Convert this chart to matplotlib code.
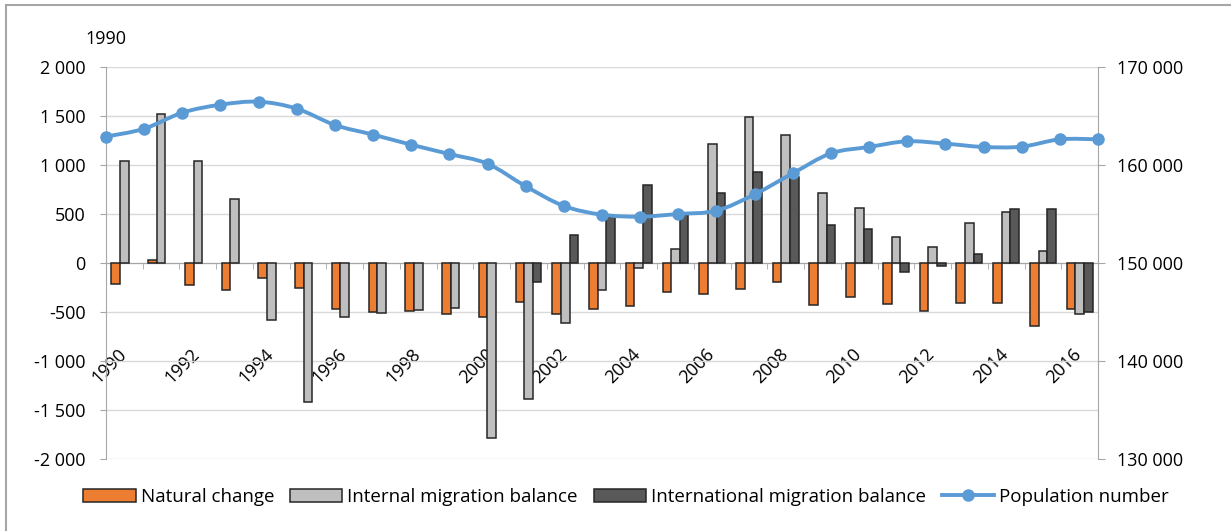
import numpy as np
import matplotlib
matplotlib.use("Agg")
import matplotlib.pyplot as plt
import matplotlib.ticker as ticker
import matplotlib.transforms as mtransforms
from matplotlib.path import Path
from matplotlib.patches import PathPatch, Rectangle
from matplotlib.lines import Line2D

plt.rcParams['font.family'] = ['Open Sans', 'DejaVu Sans']

# --- Data ---
years = list(range(1990, 2017))
natural_change = [-211, 31, -224, -275, -156, -258, -466, -503, -486, -520, -551,
                  -398, -517, -469, -439, -296, -313, -265, -197, -425, -343,
                  -422, -490, -412, -408, -646, -473]
internal_migration = [1041, 1517, 1041, 653, -582, -1422, -554, -510, -476, -463,
                      -1789, -1384, -609, -279, -54, 143, 1218, 1490, 1306, 718,
                      565, 269, 160, 405, 524, 126, -524]
international_migration = [np.nan] * 11 + [-197, 282, 469, 792, 490, 714, 931, 880,
                                           384, 350, -92, -27, 92, 551, 548, -503]
population = [162900, 163700, 165340, 166150, 166460, 165750, 164080, 163100,
              162070, 161120, 160130, 157830, 155820, 154930, 154730, 155000,
              155340, 157010, 159150, 161190, 161840, 162420, 162180, 161840,
              161870, 162620, 162620]

series_labels = ["Natural change", "Internal migration balance",
                 "International migration balance", "Population number"]

# --- Styles ---
c_nat, c_int, c_intl, c_pop = "#ED7D31", "#BFBFBF", "#595959", "#5B9BD5"
edge = "#262626"
grid_c, spine_c = "#D9D9D9", "#A6A6A6"
fs = 13


def space_thousands(v, pos):
    return f"{int(round(v)):,}".replace(",", " ")


def smooth_path(xs, ys):
    # Catmull-Rom spline converted to cubic Bezier segments
    pts = np.column_stack([xs, ys]).astype(float)
    n = len(pts)
    verts, codes = [pts[0]], [Path.MOVETO]
    for i in range(n - 1):
        p0, p1 = pts[max(i - 1, 0)], pts[i]
        p2, p3 = pts[i + 1], pts[min(i + 2, n - 1)]
        verts += [p1 + (p2 - p0) / 6, p2 - (p3 - p1) / 6, p2]
        codes += [Path.CURVE4] * 3
    return Path(verts, codes)


fig = plt.figure(figsize=(12.31, 5.31), dpi=100)
rect = [106 / 1231, 1 - 459 / 531, (1098 - 106) / 1231, (459 - 67) / 531]
ax = fig.add_axes(rect)

x = np.arange(len(years))
w = 0.235
ax.bar(x - w, natural_change, w, color=c_nat, edgecolor=edge, linewidth=1.1, zorder=3)
ax.bar(x, internal_migration, w, color=c_int, edgecolor=edge, linewidth=1.1, zorder=3)
ax.bar(x + w, international_migration, w, color=c_intl, edgecolor=edge, linewidth=1.1, zorder=3)

ax.set_xlim(-0.5, len(years) - 0.5)
ax.set_ylim(-2000, 2000)
ax.yaxis.set_major_locator(ticker.MultipleLocator(500))
ax.yaxis.set_major_formatter(ticker.FuncFormatter(space_thousands))
ax.grid(axis='y', color=grid_c, linewidth=1.0, zorder=0)
ax.set_axisbelow(True)

for s in ['top', 'right']:
    ax.spines[s].set_visible(False)
ax.spines['left'].set_color(spine_c)
ax.spines['bottom'].set_color(spine_c)
ax.spines['bottom'].set_position(('data', 0))
ax.spines['bottom'].set_zorder(2)

ax.set_xticks(x[::2])
ax.set_xticklabels([str(y) for y in years[::2]])
ax.set_xticks(np.arange(-0.5, len(years)), minor=True)
ax.tick_params(axis='x', which='major', length=0, pad=59, labelsize=fs)
ax.tick_params(axis='x', which='minor', length=4, color=spine_c, direction='out')
shift = mtransforms.ScaledTranslation(-7 / 100, 0, fig.dpi_scale_trans)
for lbl in ax.get_xticklabels():
    lbl.set(rotation=45, ha='right', va='top', rotation_mode='anchor')
    lbl.set_transform(lbl.get_transform() + shift)
ax.tick_params(axis='y', length=4.5, color=spine_c, pad=10, labelsize=fs)

# Secondary axes for the population line (own horizontal scale)
ax2 = fig.add_axes(rect)
ax2.patch.set_visible(False)
for s in ['top', 'left', 'bottom']:
    ax2.spines[s].set_visible(False)
ax2.spines['right'].set_color(spine_c)
ax2.yaxis.tick_right()
ax2.set_ylim(130000, 170000)
ax2.yaxis.set_major_locator(ticker.MultipleLocator(10000))
ax2.yaxis.set_major_formatter(ticker.FuncFormatter(space_thousands))
ax2.tick_params(axis='y', length=5, color=spine_c, pad=9, labelsize=fs)

xp = np.arange(len(years))
ax2.set_xlim(0, len(years) - 1)
ax2.xaxis.tick_top()
ax2.set_xticks([0])
ax2.set_xticklabels([str(years[0])])
ax2.tick_params(axis='x', length=0, pad=14, labelsize=fs)

ax2.add_patch(PathPatch(smooth_path(xp, population), fill=False, edgecolor=c_pop,
                        linewidth=2.8, capstyle='round', joinstyle='round', zorder=4))
ax2.plot(xp, population, 'o', color=c_pop, markersize=8, zorder=5, clip_on=False)

handles = [
    Rectangle((0, 0), 1, 1, facecolor=c_nat, edgecolor=edge, linewidth=1.1),
    Rectangle((0, 0), 1, 1, facecolor=c_int, edgecolor=edge, linewidth=1.1),
    Rectangle((0, 0), 1, 1, facecolor=c_intl, edgecolor=edge, linewidth=1.1),
    Line2D([], [], color=c_pop, linewidth=2.8, marker='o', markersize=8),
]
fig.legend(handles, series_labels, loc='center', bbox_to_anchor=(626 / 1231, 1 - 497 / 531),
           ncol=4, frameon=False, fontsize=13.5, handlelength=2.8, handleheight=0.7,
           handletextpad=0.25, columnspacing=0.85, borderaxespad=0)

# chart frame
fig.add_artist(Rectangle((6 / 1231, -0.5), 2, 1.5 - 5 / 531, transform=fig.transFigure,
                         fill=False, edgecolor="#A6A6A6", linewidth=1.5))

fig.savefig("out.png", dpi=100)
